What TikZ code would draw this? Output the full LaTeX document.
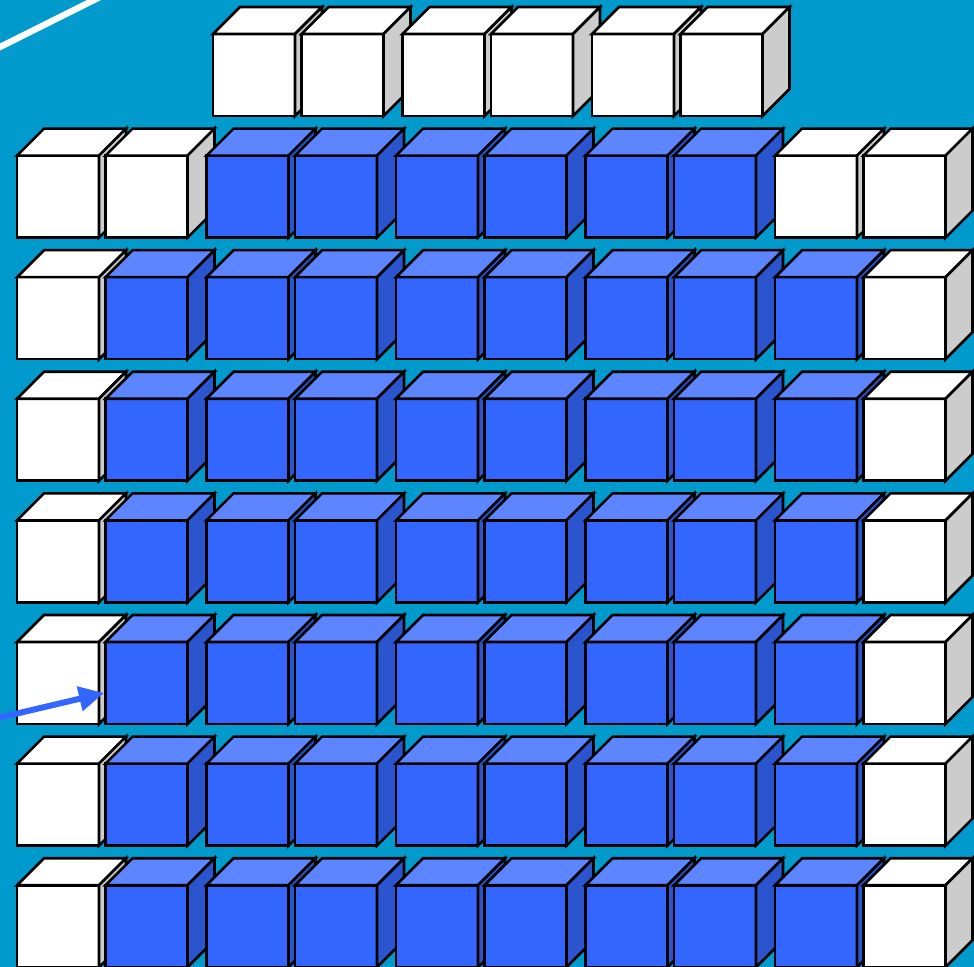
\documentclass[tikz,border=0pt]{standalone}
\usepackage{tikz}
\usetikzlibrary{arrows.meta}
\definecolor{poolbg}{HTML}{009ACC}
\definecolor{cubeblue}{HTML}{3366FF}
\definecolor{cubebluetop}{HTML}{5C85FF}
\definecolor{cubeblueside}{HTML}{2B55CF}
\definecolor{cubegrey}{HTML}{CCCCCC}
\def\cubeSize{82}
\def\cubeDepth{27}
\def\cubeStep{88.5}
\def\pairStep{189.5}
\def\rowStart{34}
\def\rowStep{121.6}
\def\colStart{17}
\def\topColStart{213}
\tikzset{
  face/.style={draw=black, line width=1.3pt, line join=miter},
  poolarrow/.style={draw=cubeblue, line width=3pt, -{Triangle[length=12.5pt, width=12pt]}},
  laneline/.style={draw=white, line width=3.2pt}
}
% one cube: x, y (front face, top-left), front, top and side colours
\newcommand{\PoolCube}[5]{
  \filldraw[face, fill=#3] ({#1},{#2}) rectangle ({#1+\cubeSize},{#2+\cubeSize});
  \filldraw[face, fill=#4] ({#1},{#2}) -- ++(\cubeDepth,-\cubeDepth) -- ++(\cubeSize,0)
    -- ++(-\cubeDepth,\cubeDepth) -- cycle;
  \filldraw[face, fill=#5] ({#1+\cubeSize},{#2}) -- ++(\cubeDepth,-\cubeDepth) -- ++(0,\cubeSize)
    -- ++(-\cubeDepth,\cubeDepth) -- cycle;
}
\newcommand{\CubeW}[2]{\PoolCube{#1}{#2}{white}{white}{cubegrey}}
\newcommand{\CubeB}[2]{\PoolCube{#1}{#2}{cubeblue}{cubebluetop}{cubeblueside}}
% a row of cubes: x start, row index, kinds (W or B)
\newcommand{\CubeRow}[3]{
  \foreach \kind [count=\c from 0] in {#3} {
    \pgfmathsetmacro\cx{#1+\pairStep*floor(\c/2)+\cubeStep*mod(\c,2)}
    \pgfmathsetmacro\cy{\rowStart+\rowStep*#2}
    \csname Cube\kind\endcsname{\cx}{\cy}
  }
}

\begin{document}
\begin{tikzpicture}[x=0.5pt, y=-0.5pt]
  \useasboundingbox (0,0) rectangle (974,967);
  \fill[poolbg] (0,0) rectangle (974,967);

  \draw[laneline] (-4,49) -- (100,-3);

  \CubeRow{\topColStart}{0}{W,W,W,W,W,W}
  \CubeRow{\colStart}{1}{W,W,B,B,B,B,B,B,W,W}
  \foreach \r in {2,...,7} {
    \CubeRow{\colStart}{\r}{W,B,B,B,B,B,B,B,B,W}
  }

  \coordinate (arrowtail) at (-2,718);
  \coordinate (arrowtip) at (104,693);
  \draw[poolarrow] (arrowtail) -- (arrowtip);
\end{tikzpicture}
\end{document}
